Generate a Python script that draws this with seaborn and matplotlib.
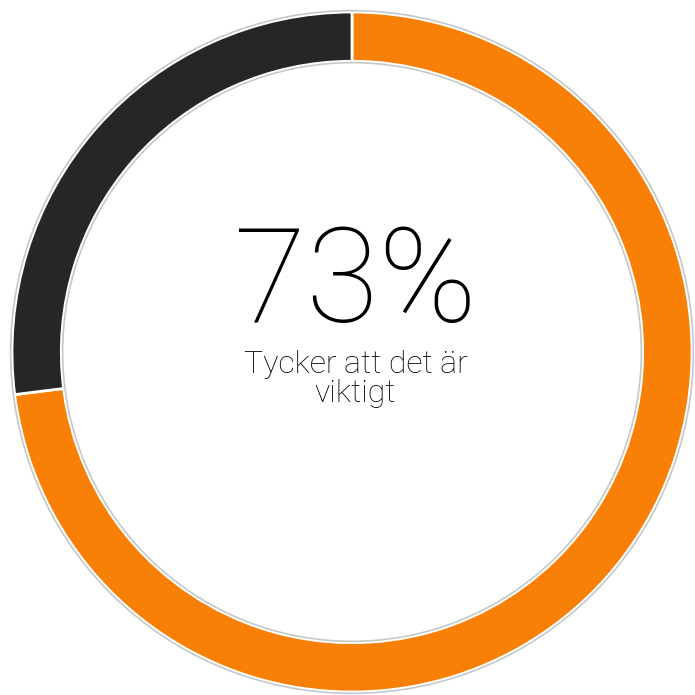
"""
Donut chart: share who think it is important (73%)
"""
import numpy as np
import pandas as pd
import seaborn as sns
import matplotlib.pyplot as plt
from matplotlib.patches import Circle

sns.set_theme(style='white')
plt.rcParams['font.family'] = ['Roboto', 'DejaVu Sans']

categories = ['Viktigt', 'Inte viktigt']
shares = [73, 27]
pal = sns.color_palette(['#F98007', '#272627'])

big_label = '73%'
sub_label = 'Tycker att det är\nviktigt'

df = pd.DataFrame({'category': categories, 'share': shares})

fig = plt.figure(figsize=(6.95, 6.95), dpi=100)
ax = fig.add_axes([0, 0, 1, 1])

ax.pie(df['share'], colors=pal, startangle=90, counterclock=False, radius=1,
       wedgeprops=dict(width=0.145, edgecolor='white', linewidth=2))

# thin grey rims around the ring
ax.add_patch(Circle((0, 0), 1.004, fill=False, edgecolor='#c8c8c8', linewidth=1.2))
ax.add_patch(Circle((0, 0), 0.851, fill=False, edgecolor='#c8c8c8', linewidth=1.2))

ax.text(0.01, 0.195, big_label, ha='center', va='center', fontsize=95,
        fontweight='light', color='black')
ax.text(0.01, -0.08, sub_label, ha='center', va='center', fontsize=23,
        fontweight='light', color='black', linespacing=1.0)

ax.set_xlim(-352 / 340, 343 / 340)
ax.set_ylim(-343 / 340, 352 / 340)
ax.set_aspect('equal')
ax.axis('off')

plt.savefig('out.png', dpi=100)
